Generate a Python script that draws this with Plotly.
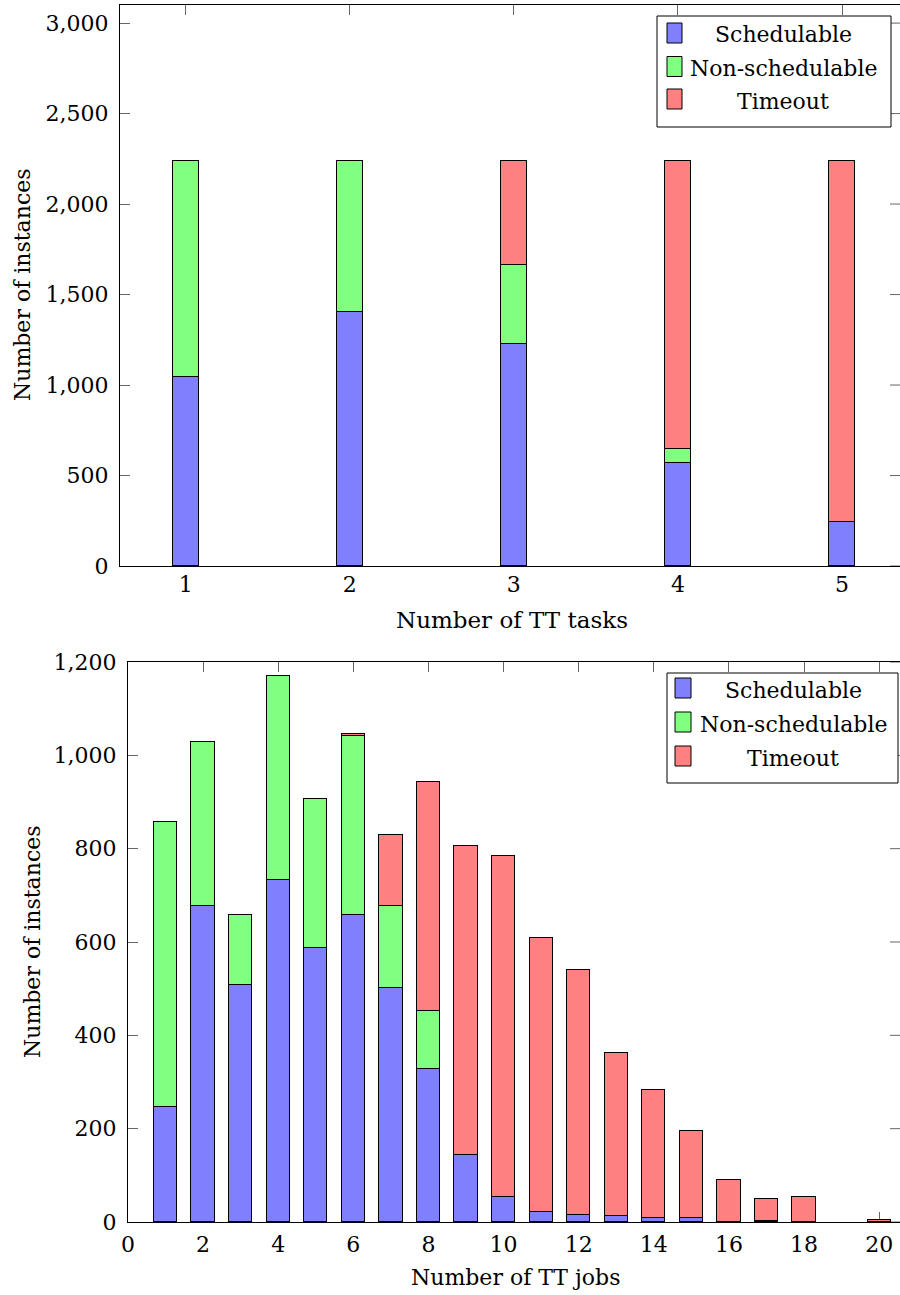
import plotly.graph_objects as go

W, H = 900, 1295

# Instances per number of TT tasks
tasks = [1, 2, 3, 4, 5]
tasks_schedulable = [1043, 1405, 1227, 571, 245]
tasks_nonschedulable = [1197, 835, 436, 77, 0]
tasks_timeout = [0, 0, 577, 1592, 1995]

# Instances per number of TT jobs (no instances with 19 jobs)
jobs = list(range(1, 21))
jobs_schedulable = [246, 678, 507, 733, 588, 657, 502, 327, 143, 53,
                    22, 15, 13, 8, 8, 0, 2, 0, None, 0]
jobs_nonschedulable = [611, 350, 150, 436, 319, 384, 175, 126, 0, 0,
                       0, 0, 0, 0, 0, 0, 0, 0, None, 0]
jobs_timeout = [0, 0, 0, 0, 0, 5, 153, 490, 662, 732,
                586, 524, 349, 274, 187, 91, 48, 54, None, 5]

series_names = ["Schedulable", "Non-schedulable", "Timeout"]
series_colors = ["#8080ff", "#80ff80", "#ff8080"]

tasks_yticks = [0, 500, 1000, 1500, 2000, 2500, 3000]
jobs_yticks = [0, 200, 400, 600, 800, 1000, 1200]
jobs_xticks = list(range(0, 21, 2))

FONT = "DejaVu Serif"
FS = 22
TICK_COLOR = "#666666"


def px(x):
    return x / W


def py(y):
    return 1 - y / H


fig = go.Figure()

tasks_series = [tasks_schedulable, tasks_nonschedulable, tasks_timeout]
jobs_series = [jobs_schedulable, jobs_nonschedulable, jobs_timeout]

for name, color, vals in zip(series_names, series_colors, tasks_series):
    fig.add_trace(go.Bar(x=tasks, y=vals, name=name, width=0.16,
                         marker=dict(color=color, line=dict(color="black", width=1)),
                         xaxis="x", yaxis="y", showlegend=False))

for name, color, vals in zip(series_names, series_colors, jobs_series):
    fig.add_trace(go.Bar(x=jobs, y=vals, name=name, width=0.62,
                         marker=dict(color=color, line=dict(color="black", width=1)),
                         xaxis="x2", yaxis="y2", showlegend=False))

axis_common = dict(
    showline=True, linecolor="black", linewidth=1,
    ticks="inside", ticklen=10, tickwidth=1, tickcolor=TICK_COLOR,
    showgrid=False, zeroline=False, layer="below traces", automargin=False,
    tickfont=dict(family=FONT, size=FS, color="black"),
)

fig.update_layout(
    width=W, height=H,
    margin=dict(l=0, r=0, t=0, b=0, autoexpand=False),
    paper_bgcolor="white", plot_bgcolor="white",
    barmode="stack", bargap=0, showlegend=False,
    font=dict(family=FONT, size=FS, color="black"),
    xaxis=dict(domain=[px(120), 1], range=[0.6, 0.6 + 780 / 164.1],
               tickmode="array", tickvals=tasks, mirror="ticks",
               anchor="y", ticklabelstandoff=-1, **axis_common),
    yaxis=dict(domain=[py(566), py(5)], range=[0, 3100],
               tickmode="array", tickvals=tasks_yticks, tickformat=",d",
               anchor="x", ticklabelstandoff=6, **axis_common),
    xaxis2=dict(domain=[px(128), 1], range=[0, 772 / 37.56],
                tickmode="array", tickvals=jobs_xticks, mirror="ticks",
                anchor="y2", ticklabelstandoff=3, **axis_common),
    yaxis2=dict(domain=[py(1222), py(662)], range=[0, 1200],
                tickmode="array", tickvals=jobs_yticks, tickformat=",d",
                anchor="x2", ticklabelstandoff=6, **axis_common),
)

shapes = []
annotations = []

# inward ticks on the right-hand side of each panel
for yref, vals in (("y", tasks_yticks), ("y2", jobs_yticks)):
    for v in vals:
        shapes.append(dict(type="line", xref="paper", yref=yref,
                           x0=1 - 10 / W, x1=1, y0=v, y1=v,
                           line=dict(color=TICK_COLOR, width=1), layer="below"))


def add_legend(box, sw_x, rows, text_cx):
    x0, y0, x1, y1 = box
    shapes.append(dict(type="rect", xref="paper", yref="paper",
                       x0=px(x0), x1=px(x1), y0=py(y1), y1=py(y0),
                       line=dict(color="black", width=1), fillcolor="white",
                       layer="above"))
    for name, color, ry in zip(series_names, series_colors, rows):
        shapes.append(dict(type="rect", xref="paper", yref="paper",
                           x0=px(sw_x[0]), x1=px(sw_x[1]),
                           y0=py(ry + 10), y1=py(ry - 10),
                           line=dict(color="black", width=1), fillcolor=color,
                           layer="above"))
        annotations.append(dict(text=name, xref="paper", yref="paper",
                                x=px(text_cx), y=py(ry + 2), xanchor="center",
                                yanchor="middle", showarrow=False,
                                font=dict(family=FONT, size=FS, color="black")))


add_legend((657, 16, 891, 127), (667, 682), (33, 66.5, 99), 783)
add_legend((667, 673, 898, 783), (675, 691), (688, 722, 756), 793)

# axis titles
annotations += [
    dict(text="Number of TT tasks", xref="paper", yref="paper",
         x=px(512), y=py(620), xanchor="center", yanchor="middle",
         showarrow=False, font=dict(family=FONT, size=23)),
    dict(text="Number of TT jobs", xref="paper", yref="paper",
         x=px(515), y=py(1277), xanchor="center", yanchor="middle",
         showarrow=False, font=dict(family=FONT, size=FS)),
    dict(text="Number of instances", xref="paper", yref="paper",
         x=px(22), y=py(285), xanchor="center", yanchor="middle",
         textangle=-90, showarrow=False, font=dict(family=FONT, size=FS)),
    dict(text="Number of instances", xref="paper", yref="paper",
         x=px(33), y=py(942), xanchor="center", yanchor="middle",
         textangle=-90, showarrow=False, font=dict(family=FONT, size=FS)),
]

fig.update_layout(shapes=shapes, annotations=annotations)

fig.write_html("out.html")
